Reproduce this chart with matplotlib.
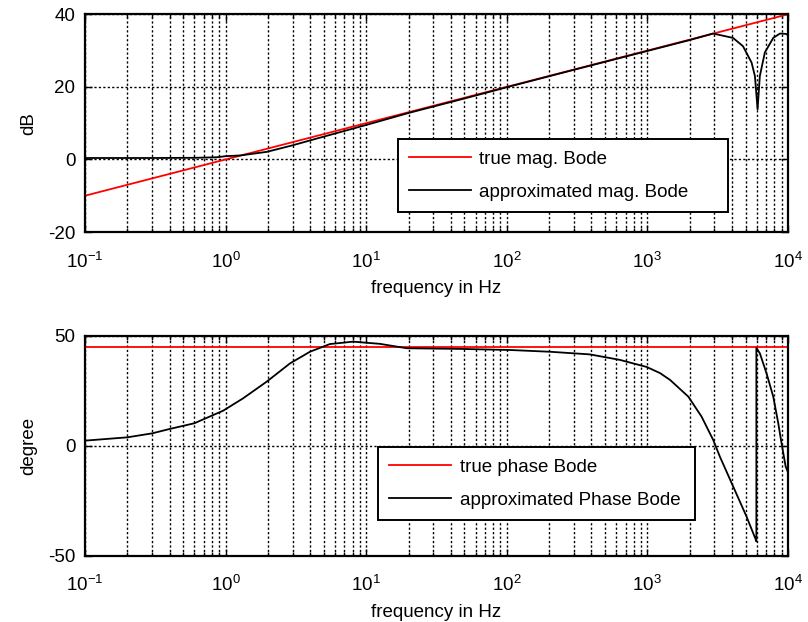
import numpy as np
import matplotlib
matplotlib.use("Agg")
import matplotlib.pyplot as plt
from matplotlib.ticker import LogLocator, FixedLocator

plt.rcParams['font.family'] = ['Liberation Sans', 'DejaVu Sans']
plt.rcParams['mathtext.fontset'] = 'custom'
plt.rcParams['mathtext.rm'] = 'Liberation Sans'
plt.rcParams['mathtext.it'] = 'Liberation Sans'
plt.rcParams['axes.unicode_minus'] = False
plt.rcParams['font.size'] = 13.5

# ideal half-order differentiator (straight lines)
true_freq  = [0.1, 1e4]
true_mag   = [-10.0, 40.0]
true_phase = [45.0, 45.0]

# approximated response
mag_freq = [0.1, 0.3, 0.6, 0.87, 1.0, 1.27, 1.97, 3.0, 4.69, 10, 20, 50, 100, 300,
            1000, 2000, 2930, 4065, 4790, 5510, 5820, 6080, 6310, 6850, 7860,
            8770, 9660, 10000]
mag_db   = [0.4, 0.4, 0.45, 0.6, 0.9, 1.1, 2.1, 3.9, 6.0, 9.5, 12.8, 16.8, 19.9, 24.7,
            29.9, 32.9, 34.7, 33.5, 31.2, 26.7, 23.0, 13.8, 23.0, 29.5, 33.5,
            34.7, 34.6, 34.3]

ph_freq  = [0.1, 0.2, 0.3, 0.4, 0.6, 0.96, 1.33, 1.96, 2.87, 3.98, 5.52, 8.1, 10,
            12.5, 19.4, 46, 105, 203, 390, 638, 988, 1230, 1450, 1955, 2430, 2940,
            3280, 4080, 5080, 5920, 5960, 5960, 6310, 7040, 7860, 8530, 9010, 9630,
            10000]
ph_deg   = [2.3, 3.8, 5.6, 7.6, 10.2, 15.9, 21.5, 29.1, 37.4, 42.7, 46.2, 47.3, 46.8,
            46.3, 44.3, 44.0, 43.5, 42.7, 41.5, 39.0, 35.8, 33.0, 29.9, 22.3, 13.2, 2.6,
            -5.0, -18.6, -32.3, -42.9, -43.5, 44.5, 42.0, 32.9, 22.3, 10.2, 1.0, -9.5,
            -12.0]

decades = [0.1, 1, 10, 100, 1000, 10000]
grid_ls = (0, (1.6, 1.6))


def style_axes(ax, yticks):
    ax.set_xscale('log')
    ax.set_xlim(0.1, 1e4)
    ax.set_ylim(yticks[0], yticks[-1])
    ax.xaxis.set_major_locator(FixedLocator(decades))
    ax.xaxis.set_minor_locator(LogLocator(base=10, subs=np.arange(2, 10), numticks=20))
    ax.yaxis.set_major_locator(FixedLocator(yticks))
    ax.grid(True, which='major', color='black', linestyle=grid_ls, linewidth=1.0)
    ax.grid(True, which='minor', axis='x', color='black', linestyle=grid_ls, linewidth=1.0)
    ax.tick_params(which='both', direction='in', top=True, right=True, color='black')
    ax.tick_params(which='major', length=5, width=1, pad=7)
    ax.tick_params(axis='x', which='major', pad=14)
    ax.tick_params(which='minor', length=3, width=1)
    for s in ax.spines.values():
        s.set_linewidth(1.6)
    ax.set_xlabel('frequency in Hz', labelpad=6)


fig = plt.figure(figsize=(8.08, 6.22), dpi=100)
ax1 = fig.add_axes([0.1052, 0.627, 0.870, 0.350])
ax2 = fig.add_axes([0.1052, 0.1066, 0.870, 0.3537])

leg_kw = dict(loc='lower left', mode='expand', fancybox=False, edgecolor='black',
              framealpha=1, handlelength=3.3, handletextpad=0.45,
              borderaxespad=0, borderpad=0.6, labelspacing=0.85)

ax1.plot(true_freq, true_mag, color='red', lw=1.3, label='true mag. Bode')
ax1.plot(mag_freq, mag_db, color='black', lw=1.3, label='approximated mag. Bode')
style_axes(ax1, [-20, 0, 20, 40])
ax1.set_ylabel('dB', labelpad=8)
leg1 = ax1.legend(bbox_to_anchor=(0.445, 0.092, 0.47, 0.317), **leg_kw)
leg1.get_frame().set_linewidth(1.4)

ax2.plot(true_freq, true_phase, color='red', lw=1.3, label='true phase Bode')
ax2.plot(ph_freq, ph_deg, color='black', lw=1.3, label='approximated Phase Bode')
style_axes(ax2, [-50, 0, 50])
ax2.set_ylabel('degree', labelpad=8)
leg2 = ax2.legend(bbox_to_anchor=(0.417, 0.162, 0.451, 0.311), **leg_kw)
leg2.get_frame().set_linewidth(1.4)

fig.savefig('out.png', dpi=100)
